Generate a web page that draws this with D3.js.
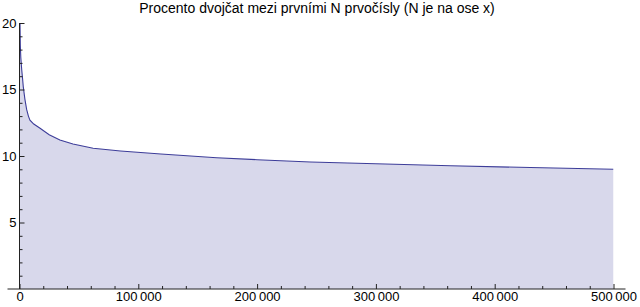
<!DOCTYPE html>
<html>
<head>
<meta charset="utf-8">
<script src="https://cdn.jsdelivr.net/npm/d3@7"></script>
<style>
  body { margin: 0; background: #fff; }
  svg text { font-family: "Liberation Sans", Arial, sans-serif; fill: #000; }
  .axis path { display: none; }
  .axis line { stroke: #222; stroke-width: 1; }
</style>
</head>
<body>
<svg id="chart" width="640" height="307"></svg>
<script>
var titleText = "Procento dvojčat mezi prvními N prvočísly (N je na ose x)";

// N (number of first primes) and percent of twin primes among them
var primeCount = [1, 60, 150, 300, 420, 700, 1100, 1850, 2600, 3200, 4500, 6000,
	7500, 8800, 12000, 17000, 25000, 34000, 45000, 62000, 85000, 119000,
	166000, 200000, 245000, 300000, 363000, 430000, 500000];
var twinPercent = [66, 40, 28, 22, 20, 18.3, 17.4, 16.5, 15.8, 15.2, 14.3, 13.5,
	13.0, 12.7, 12.4, 12.1, 11.6, 11.2, 10.9, 10.58, 10.38, 10.15,
	9.87, 9.72, 9.55, 9.42, 9.27, 9.13, 9.0];

var xMajorTicks = [0, 100000, 200000, 300000, 400000, 500000];
var yMajorTicks = [5, 10, 15, 20];

var data = primeCount.map(function(n, i){
	return { n: n, p: twinPercent[i] };
});

var svg = d3.select("#chart");

var x = d3.scaleLinear().domain([0, 500000]).range([19.5, 613.5]);
var y = d3.scaleLinear().domain([0, 20]).range([289, 23]);

var spaced = d3.formatLocale({
	decimal: ".", thousands: "\u2009", grouping: [3], currency: ["", ""]
}).format(",");

svg.append("clipPath").attr("id", "plot-clip")
	.append("rect")
	.attr("x", x(0)).attr("y", y(20))
	.attr("width", x(500000) - x(0))
	.attr("height", y(0) - y(20));

var plot = svg.append("g").attr("clip-path", "url(#plot-clip)");

var area = d3.area()
	.x(function(d){ return x(d.n); })
	.y0(y(0))
	.y1(function(d){ return y(d.p); });

var line = d3.line()
	.x(function(d){ return x(d.n); })
	.y(function(d){ return y(d.p); });

plot.append("path").datum(data)
	.attr("d", area)
	.attr("fill", "#d8d8eb");

plot.append("path").datum(data)
	.attr("d", line)
	.attr("fill", "none")
	.attr("stroke", "#3d3d99")
	.attr("stroke-width", 1.1);

// minor ticks
var xMinor = d3.range(0, 500001, 20000).filter(function(v){ return v % 100000; });
var yMinor = d3.range(1, 20, 1).filter(function(v){ return v % 5; });

svg.append("g").attr("class", "axis x minor")
	.attr("transform", "translate(0," + y(0) + ")")
	.call(d3.axisBottom(x).tickValues(xMinor).tickSize(-3).tickFormat(""));

svg.append("g").attr("class", "axis y minor")
	.attr("transform", "translate(" + x(0) + ",0)")
	.call(d3.axisLeft(y).tickValues(yMinor).tickSize(-3).tickFormat(""));

// major ticks
svg.append("g").attr("class", "axis x")
	.attr("transform", "translate(0," + y(0) + ")")
	.call(d3.axisBottom(x).tickValues(xMajorTicks).tickSize(-5).tickPadding(3)
		.tickFormat(spaced))
	.selectAll("text").style("font-size", "13px");

svg.append("g").attr("class", "axis y")
	.attr("transform", "translate(" + x(0) + ",0)")
	.call(d3.axisLeft(y).tickValues(yMajorTicks).tickSize(-5).tickPadding(3))
	.selectAll("text").style("font-size", "13px");

// axis lines
svg.append("line")
	.attr("x1", x(0) - 12).attr("x2", x(500000) + 12)
	.attr("y1", y(0)).attr("y2", y(0))
	.attr("stroke", "#222");
svg.append("line")
	.attr("x1", x(0)).attr("x2", x(0))
	.attr("y1", y(20)).attr("y2", y(0))
	.attr("stroke", "#222");

svg.append("text")
	.attr("x", 317).attr("y", 13)
	.attr("text-anchor", "middle")
	.style("font-size", "14px")
	.text(titleText);
</script>
</body>
</html>
